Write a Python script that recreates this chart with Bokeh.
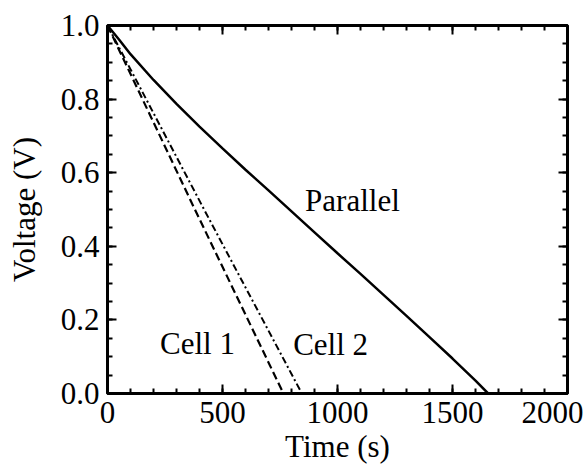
from bokeh.plotting import figure
from bokeh.models import LinearAxis, Range1d, Label, FixedTicker, PrintfTickFormatter, CustomJSTickFormatter
from bokeh.embed import file_html
from bokeh.resources import INLINE

# Data
time_parallel = [0, 50, 100, 200, 300, 400, 500, 600, 700, 800, 900, 1000, 1100, 1200, 1300, 1400, 1500, 1600, 1655]
volt_parallel = [1.0, 0.962, 0.922, 0.852, 0.787, 0.725, 0.666, 0.608, 0.552, 0.495, 0.438, 0.381, 0.325, 0.268, 0.211, 0.153, 0.095, 0.035, 0.0]
time_cell1 = [0, 380, 765]
volt_cell1 = [1.0, 0.50, 0.0]
time_cell2 = [0, 420, 845]
volt_cell2 = [1.0, 0.50, 0.0]

x_major = [0, 500, 1000, 1500, 2000]
x_minor = list(range(0, 2001, 100))
y_major = [0.0, 0.2, 0.4, 0.6, 0.8, 1.0]
y_minor = [i * 0.05 for i in range(21)]

x_title = "Time (s)"
y_title = "Voltage (V)"
labels = [("Parallel", 1065, 0.524), ("Cell 1", 391, 0.136), ("Cell 2", 970, 0.133)]

FONT = "Liberation Serif"
FS = "31px"

p = figure(width=583, height=466, output_backend="svg", toolbar_location=None,
           x_range=Range1d(0, 2000), y_range=Range1d(0, 1.0),
           x_axis_location=None, y_axis_location=None,
           min_border_left=107, min_border_right=16, min_border_top=25, min_border_bottom=73)
p.grid.visible = False
p.outline_line_color = "black"
p.outline_line_width = 3
p.background_fill_color = "white"
p.border_fill_color = "white"


def style(ax, show_labels, xaxis):
    ax.ticker = FixedTicker(ticks=x_major if xaxis else y_major,
                            minor_ticks=x_minor if xaxis else y_minor)
    ax.axis_line_color = None
    ax.major_tick_in = 9
    ax.major_tick_out = 0
    ax.minor_tick_in = 5
    ax.minor_tick_out = 0
    ax.major_tick_line_width = 2
    ax.minor_tick_line_width = 2
    ax.major_tick_line_color = "black"
    ax.minor_tick_line_color = "black"
    if show_labels:
        ax.major_label_text_font = FONT
        ax.major_label_text_font_size = FS
        ax.major_label_text_color = "black"
        ax.major_label_standoff = 8
        ax.axis_label_text_font = FONT
        ax.axis_label_text_font_size = FS
        ax.axis_label_text_font_style = "normal"
        ax.axis_label_text_color = "black"
    else:
        ax.formatter = CustomJSTickFormatter(code="return ''")
        ax.major_label_standoff = 0


xb = LinearAxis(axis_label=x_title)
style(xb, True, True)
xb.axis_label_standoff = 3
p.add_layout(xb, "below")

yl = LinearAxis(axis_label=y_title)
style(yl, True, False)
yl.formatter = PrintfTickFormatter(format="%.1f")
yl.axis_label_standoff = 16
p.add_layout(yl, "left")

xa = LinearAxis()
style(xa, False, True)
p.add_layout(xa, "above")

yr = LinearAxis()
style(yr, False, False)
p.add_layout(yr, "right")

p.line(time_parallel, volt_parallel, line_color="black", line_width=2.5)
p.line(time_cell1, volt_cell1, line_color="black", line_width=2.2, line_dash="8 4")
p.line(time_cell2, volt_cell2, line_color="black", line_width=2.0, line_dash="7 3 2 3")

for txt, x, y in labels:
    p.add_layout(Label(x=x, y=y, text=txt, text_font=FONT, text_font_size=FS,
                       text_align="center", text_baseline="middle", text_color="black"))

open("out.html", "w").write(file_html(p, INLINE))
